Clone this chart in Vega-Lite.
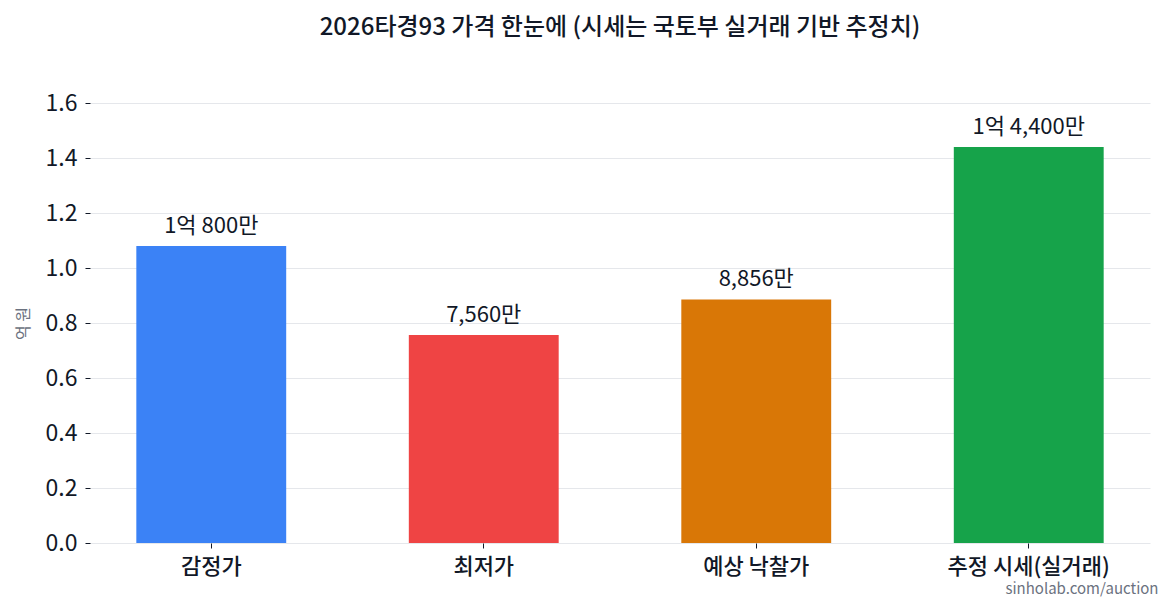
{
  "$schema": "https://vega.github.io/schema/vega-lite/v6.json",
  "autosize": {"type": "none"},
  "padding": {"left": 90, "top": 103, "right": 20, "bottom": 55},
  "width": 1060,
  "height": 440,
  "background": "white",
  "title": {
    "text": "2026타경93 가격 한눈에 (시세는 국토부 실거래 기반 추정치)",
    "fontSize": 24,
    "fontWeight": 500,
    "color": "#111827",
    "anchor": "middle",
    "offset": 52
  },
  "data": {
    "values": [
      {"item": "감정가", "value": 1.08, "label": "1억 800만"},
      {"item": "최저가", "value": 0.756, "label": "7,560만"},
      {"item": "예상 낙찰가", "value": 0.8856, "label": "8,856만"},
      {"item": "추정 시세(실거래)", "value": 1.44, "label": "1억 4,400만"}
    ]
  },
  "encoding": {
    "x": {
      "field": "item",
      "type": "nominal",
      "sort": null,
      "scale": {"paddingInner": 0.45, "paddingOuter": 0.17},
      "axis": {
        "title": "sinholab.com/auction",
        "titleAnchor": "end",
        "titleAlign": "right",
        "titleX": 1068,
        "titleFontSize": 15,
        "titleFontWeight": "normal",
        "titleColor": "#6b7280",
        "titlePadding": 4,
        "labelAngle": 0,
        "labelFontSize": 22,
        "labelFontWeight": 500,
        "labelColor": "#111827",
        "labelPadding": 8,
        "tickSize": 5,
        "tickColor": "#111827",
        "domain": false
      }
    },
    "y": {
      "field": "value",
      "type": "quantitative",
      "scale": {"domain": [0, 1.6]},
      "axis": {
        "title": "억 원",
        "titleFontSize": 16,
        "titleFontWeight": "normal",
        "titleColor": "#6b7280",
        "titlePadding": 14,
        "format": ".1f",
        "values": [0, 0.2, 0.4, 0.6, 0.8, 1.0, 1.2, 1.4, 1.6],
        "labelFontSize": 23,
        "labelColor": "#111827",
        "labelPadding": 8,
        "tickSize": 5,
        "tickColor": "#111827",
        "domain": false,
        "gridColor": "#e5e7eb"
      }
    }
  },
  "layer": [
    {
      "mark": {"type": "bar"},
      "encoding": {
        "color": {
          "field": "item",
          "type": "nominal",
          "sort": null,
          "scale": {
            "domain": ["감정가", "최저가", "예상 낙찰가", "추정 시세(실거래)"],
            "range": ["#3b82f6", "#ef4444", "#d97706", "#16a34a"]
          },
          "legend": null
        }
      }
    },
    {
      "mark": {
        "type": "text",
        "baseline": "bottom",
        "dy": -8,
        "fontSize": 22,
        "fontWeight": "normal",
        "color": "#111827"
      },
      "encoding": {"text": {"field": "label"}}
    }
  ],
  "config": {
    "font": "Noto Sans CJK KR",
    "view": {"stroke": null}
  }
}
